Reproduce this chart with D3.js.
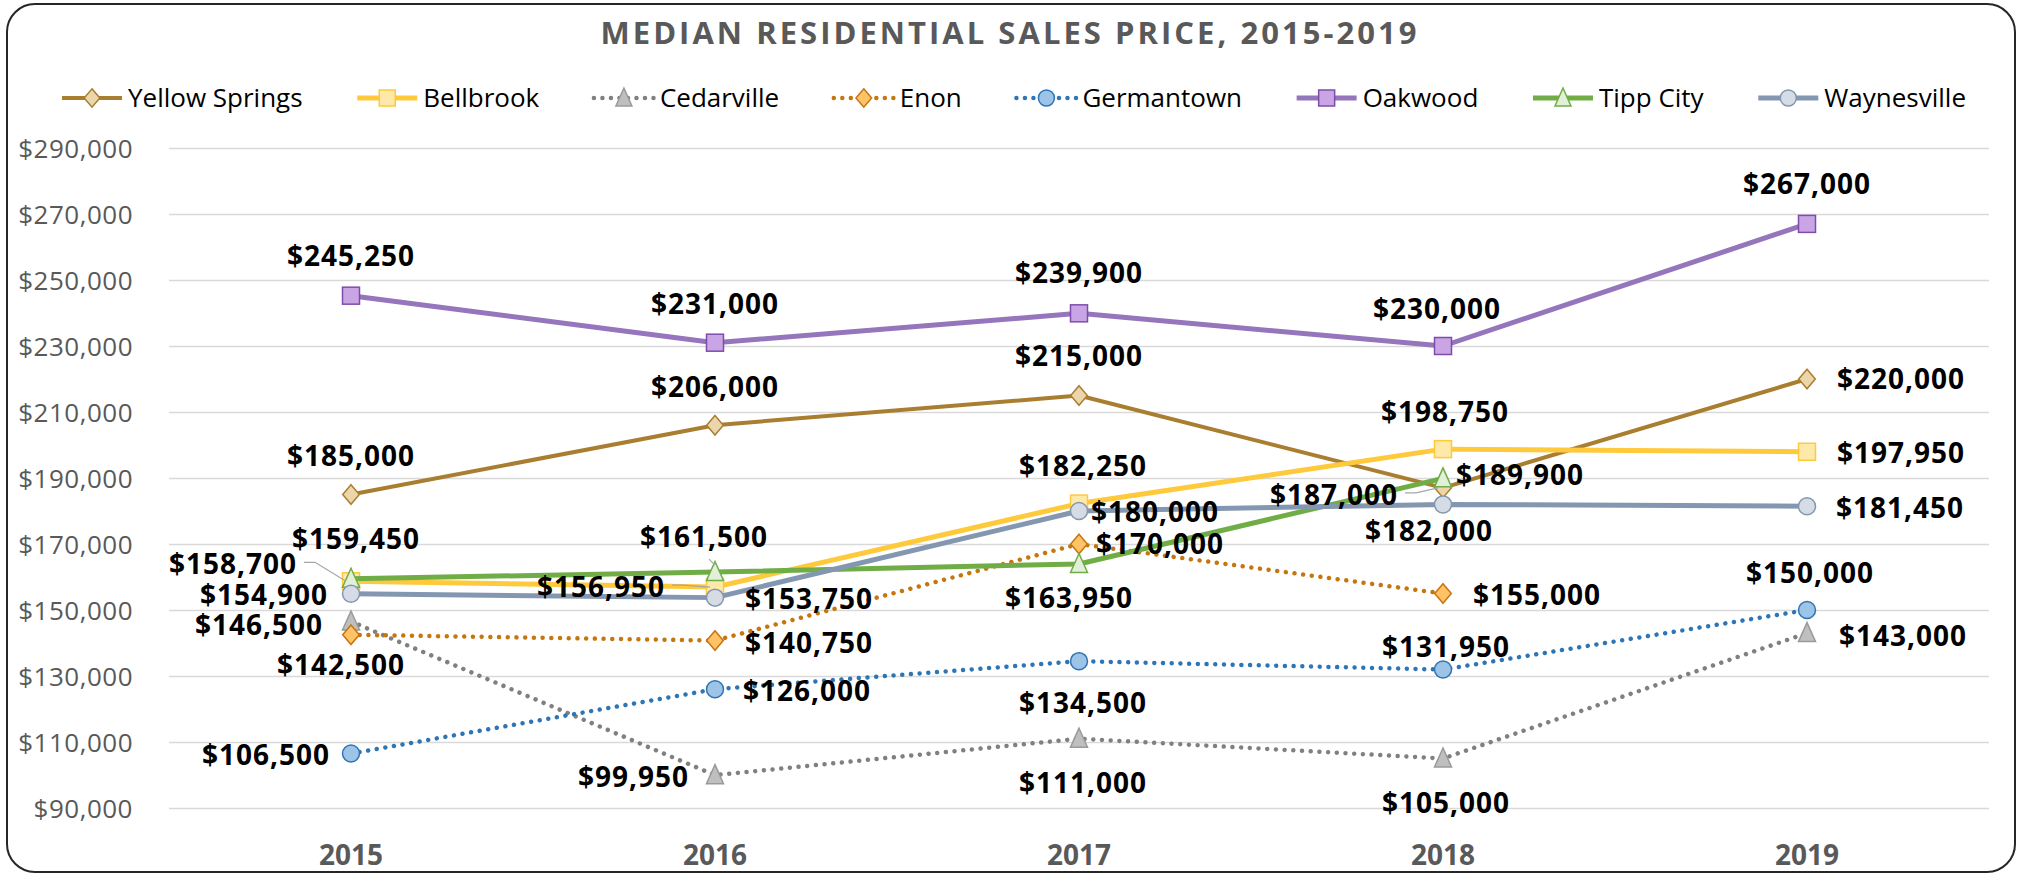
<!DOCTYPE html>
<html>
<head>
<meta charset="utf-8">
<script src="https://cdn.jsdelivr.net/npm/d3@7"></script>
<style>
  html, body { margin: 0; padding: 0; background: #ffffff; }
  svg { display: block; }
</style>
</head>
<body>
<svg id="chart" width="2021" height="875"></svg>
<script>
// ---------- DATA ----------
const years = ["2015", "2016", "2017", "2018", "2019"];
const seriesNames = ["Yellow Springs", "Bellbrook", "Cedarville", "Enon", "Germantown", "Oakwood", "Tipp City", "Waynesville"];
const yellowSprings = [185000, 206000, 215000, 187000, 220000];
const bellbrook     = [158700, 156950, 182250, 198750, 197950];
const cedarville    = [146500,  99950, 111000, 105000, 143000];
const enon          = [142500, 140750, 170000, 155000, null];
const germantown    = [106500, 126000, 134500, 131950, 150000];
const oakwood       = [245250, 231000, 239900, 230000, 267000];
const tippCity      = [159450, 161500, 163950, 189900, null];
const waynesville   = [154900, 153750, 180000, 182000, 181450];
const yTicks = [90000, 110000, 130000, 150000, 170000, 190000, 210000, 230000, 250000, 270000, 290000];
const titleText = "MEDIAN RESIDENTIAL SALES PRICE, 2015-2019";

// ---------- STYLE / LAYOUT ----------
const seriesValues = [yellowSprings, bellbrook, cedarville, enon, germantown, oakwood, tippCity, waynesville];
const styles = [
  { line: "#A97E30", width: 4,   dash: null, marker: "diamond",  fill: "#EBD6AC", stroke: "#A97E30" },
  { line: "#FFC93C", width: 5,   dash: null, marker: "square",   fill: "#FFE9A8", stroke: "#FFC93C" },
  { line: "#808080", width: 4.5, dash: "0.01 8.7", marker: "triangle", fill: "#BFBFBF", stroke: "#9A9A9A" },
  { line: "#C5760F", width: 4.5, dash: "0.01 8.7", marker: "diamond",  fill: "#FFC266", stroke: "#C5760F" },
  { line: "#2E75B6", width: 4.5, dash: "0.01 8.7", marker: "circle",   fill: "#9DC3E6", stroke: "#2E75B6" },
  { line: "#9575BC", width: 5,   dash: null, marker: "square",   fill: "#C9A5E6", stroke: "#7E4DAA" },
  { line: "#70AD47", width: 5,   dash: null, marker: "triangle", fill: "#E2F0D9", stroke: "#70AD47" },
  { line: "#8497B0", width: 5,   dash: null, marker: "circle",   fill: "#D6DCE5", stroke: "#8497B0" }
];
// label placement per point: [anchor, dx, dy, leader]
const labelLayout = [
  [["m",0,-39],["m",0,-38],["m",0,-40],["e",-45,7,1],["s",30,0]],
  [["e",-54,-17,1],["e",-50,0,1],["m",4,-38],["m",2,-37],["s",30,1]],
  [["e",-28,3],["e",-26,2],["m",4,44],["m",3,44],["s",32,3]],
  [["m",-10,30],["s",30,2],["s",17,0],["s",30,1.5],null],
  [["e",-21,1.5],["s",28,1.6],["m",4,41.5],["m",3,-23],["m",3,-37.5]],
  [["m",0,-40],["m",0,-39],["m",0,-40],["m",-6,-37],["m",0,-40]],
  [["m",5,-40],["m",-11,-35,1],["m",-10,34],["s",13,-3],null],
  [["e",-23,1],["s",30,1.4],["s",12,1],["m",-14,27],["s",29,1.3]]
];

const svg = d3.select("#chart");
const FONT = "'Open Sans', 'Noto Sans', sans-serif";

// border
svg.append("rect")
  .attr("x", 7).attr("y", 4).attr("width", 2008).attr("height", 868)
  .attr("rx", 28).attr("ry", 28)
  .attr("fill", "#ffffff").attr("stroke", "#262626").attr("stroke-width", 2);

// scales
const x = d3.scaleBand().domain(years).range([169, 1989]);
const cx = d => x(d) + x.bandwidth() / 2;
const y = d3.scaleLinear().domain([90000, 290000]).range([808, 148]);

// gridlines
const grid = svg.append("g").attr("transform", "translate(169,0)")
  .call(d3.axisLeft(y).tickValues(yTicks).tickSize(-1820).tickFormat(""));
grid.select(".domain").remove();
grid.selectAll("line").attr("stroke", "#D9D9D9").attr("stroke-width", 1.5);

// y axis labels
const yAxis = svg.append("g").attr("transform", "translate(133,0)")
  .call(d3.axisLeft(y).tickValues(yTicks).tickSize(0).tickPadding(0).tickFormat(d3.format("$,")));
yAxis.select(".domain").remove();
yAxis.selectAll("text")
  .attr("font-family", FONT).attr("font-size", 26).attr("fill", "#595959")
  .attr("letter-spacing", 0.5)
  .attr("dy", "0.36em");

// x axis labels
const xAxis = svg.append("g").attr("transform", "translate(0,843)")
  .call(d3.axisBottom(x).tickSize(0).tickPadding(0));
xAxis.select(".domain").remove();
xAxis.selectAll("text")
  .attr("font-family", FONT).attr("font-size", 28).attr("font-weight", "bold")
  .attr("fill", "#595959").attr("dy", "0.36em").attr("y", 12);

// marker drawer
function drawMarker(g, type, px, py, st, size) {
  const h = size / 2;
  if (type === "circle") {
    g.append("circle").attr("cx", px).attr("cy", py).attr("r", h)
      .attr("fill", st.fill).attr("stroke", st.stroke).attr("stroke-width", 1.5);
  } else if (type === "square") {
    g.append("rect").attr("x", px - h).attr("y", py - h).attr("width", size).attr("height", size)
      .attr("fill", st.fill).attr("stroke", st.stroke).attr("stroke-width", 1.5);
  } else if (type === "diamond") {
    const d = h * 1.15;
    g.append("path").attr("d", `M${px},${py - d}L${px + d * 0.85},${py}L${px},${py + d}L${px - d * 0.85},${py}Z`)
      .attr("fill", st.fill).attr("stroke", st.stroke).attr("stroke-width", 1.5);
  } else if (type === "triangle") {
    g.append("path").attr("d", `M${px},${py - h - 2}L${px + h},${py + h}L${px - h},${py + h}Z`)
      .attr("fill", st.fill).attr("stroke", st.stroke).attr("stroke-width", 1.5);
  }
}

// series
const lineGen = d3.line().defined(d => d.v != null).x(d => cx(d.yr)).y(d => y(d.v));
seriesValues.forEach((vals, i) => {
  const st = styles[i];
  const pts = years.map((yr, j) => ({ yr, v: vals[j] }));
  const g = svg.append("g");
  g.append("path").datum(pts).attr("d", lineGen)
    .attr("fill", "none").attr("stroke", st.line).attr("stroke-width", st.width)
    .attr("stroke-linejoin", "round")
    .attr("stroke-linecap", st.dash ? "round" : "butt")
    .attr("stroke-dasharray", st.dash);
  pts.filter(p => p.v != null).forEach(p => drawMarker(g, st.marker, cx(p.yr), y(p.v), st, 17));
});

// labels
const fmt = d3.format("$,");
const labelG = svg.append("g");
seriesValues.forEach((vals, i) => {
  vals.forEach((v, j) => {
    if (v == null) return;
    const lay = labelLayout[i][j];
    const px = cx(years[j]), py = y(v);
    const anchor = lay[0] === "m" ? "middle" : (lay[0] === "e" ? "end" : "start");
    const tx = px + lay[1], ty = py + lay[2];
    if (lay[3]) {
      let pts;
      if (lay[0] === "e") {
        pts = [[tx + 7, ty - 2], [tx + 18, ty - 2], [px - 5, py]];
      } else {
        pts = [[tx + 5, ty + 22], [px, py - 7]];
      }
      labelG.append("path").attr("d", d3.line()(pts))
        .attr("fill", "none").attr("stroke", "#A6A6A6").attr("stroke-width", 1.2);
    }
    labelG.append("text")
      .attr("x", tx).attr("y", ty).attr("dy", "0.36em")
      .attr("text-anchor", anchor)
      .attr("font-family", FONT).attr("font-size", 28).attr("font-weight", "bold")
      .attr("letter-spacing", 1)
      .attr("fill", "#000000")
      .text(fmt(v));
  });
});

// title
const title = svg.append("text")
  .attr("x", 1010).attr("y", 33).attr("dy", "0.36em")
  .attr("text-anchor", "middle")
  .attr("font-family", FONT).attr("font-size", 31).attr("font-weight", "bold")
  .attr("fill", "#595959")
  .text(titleText);
const tw = title.node().getComputedTextLength();
const ls = Math.max(0, (816 - tw) / (titleText.length - 1));
title.attr("letter-spacing", ls);

// legend
const legend = svg.append("g");
const legendY = 98;
const texts = seriesNames.map(n => {
  const t = legend.append("text").attr("font-family", FONT).attr("font-size", 26)
    .attr("fill", "#000000").attr("dy", "0.36em").attr("y", legendY).text(n);
  return t;
});
const widths = texts.map(t => t.node().getComputedTextLength());
const itemW = widths.map(w => 66 + w);
const gap = (1904 - d3.sum(itemW)) / (seriesNames.length - 1);
let lx = 62;
seriesNames.forEach((n, i) => {
  const st = styles[i];
  const mx = lx + 30;
  legend.append("line").attr("x1", lx).attr("x2", lx + 60).attr("y1", legendY).attr("y2", legendY)
    .attr("stroke", st.line).attr("stroke-width", st.width)
    .attr("stroke-linecap", st.dash ? "round" : "butt")
    .attr("stroke-dasharray", st.dash ? "0.01 8.5" : null);
  drawMarker(legend, st.marker, mx, legendY, st, 16);
  texts[i].attr("x", lx + 66);
  lx += itemW[i] + gap;
});
texts.forEach(t => t.raise());
</script>
</body>
</html>
